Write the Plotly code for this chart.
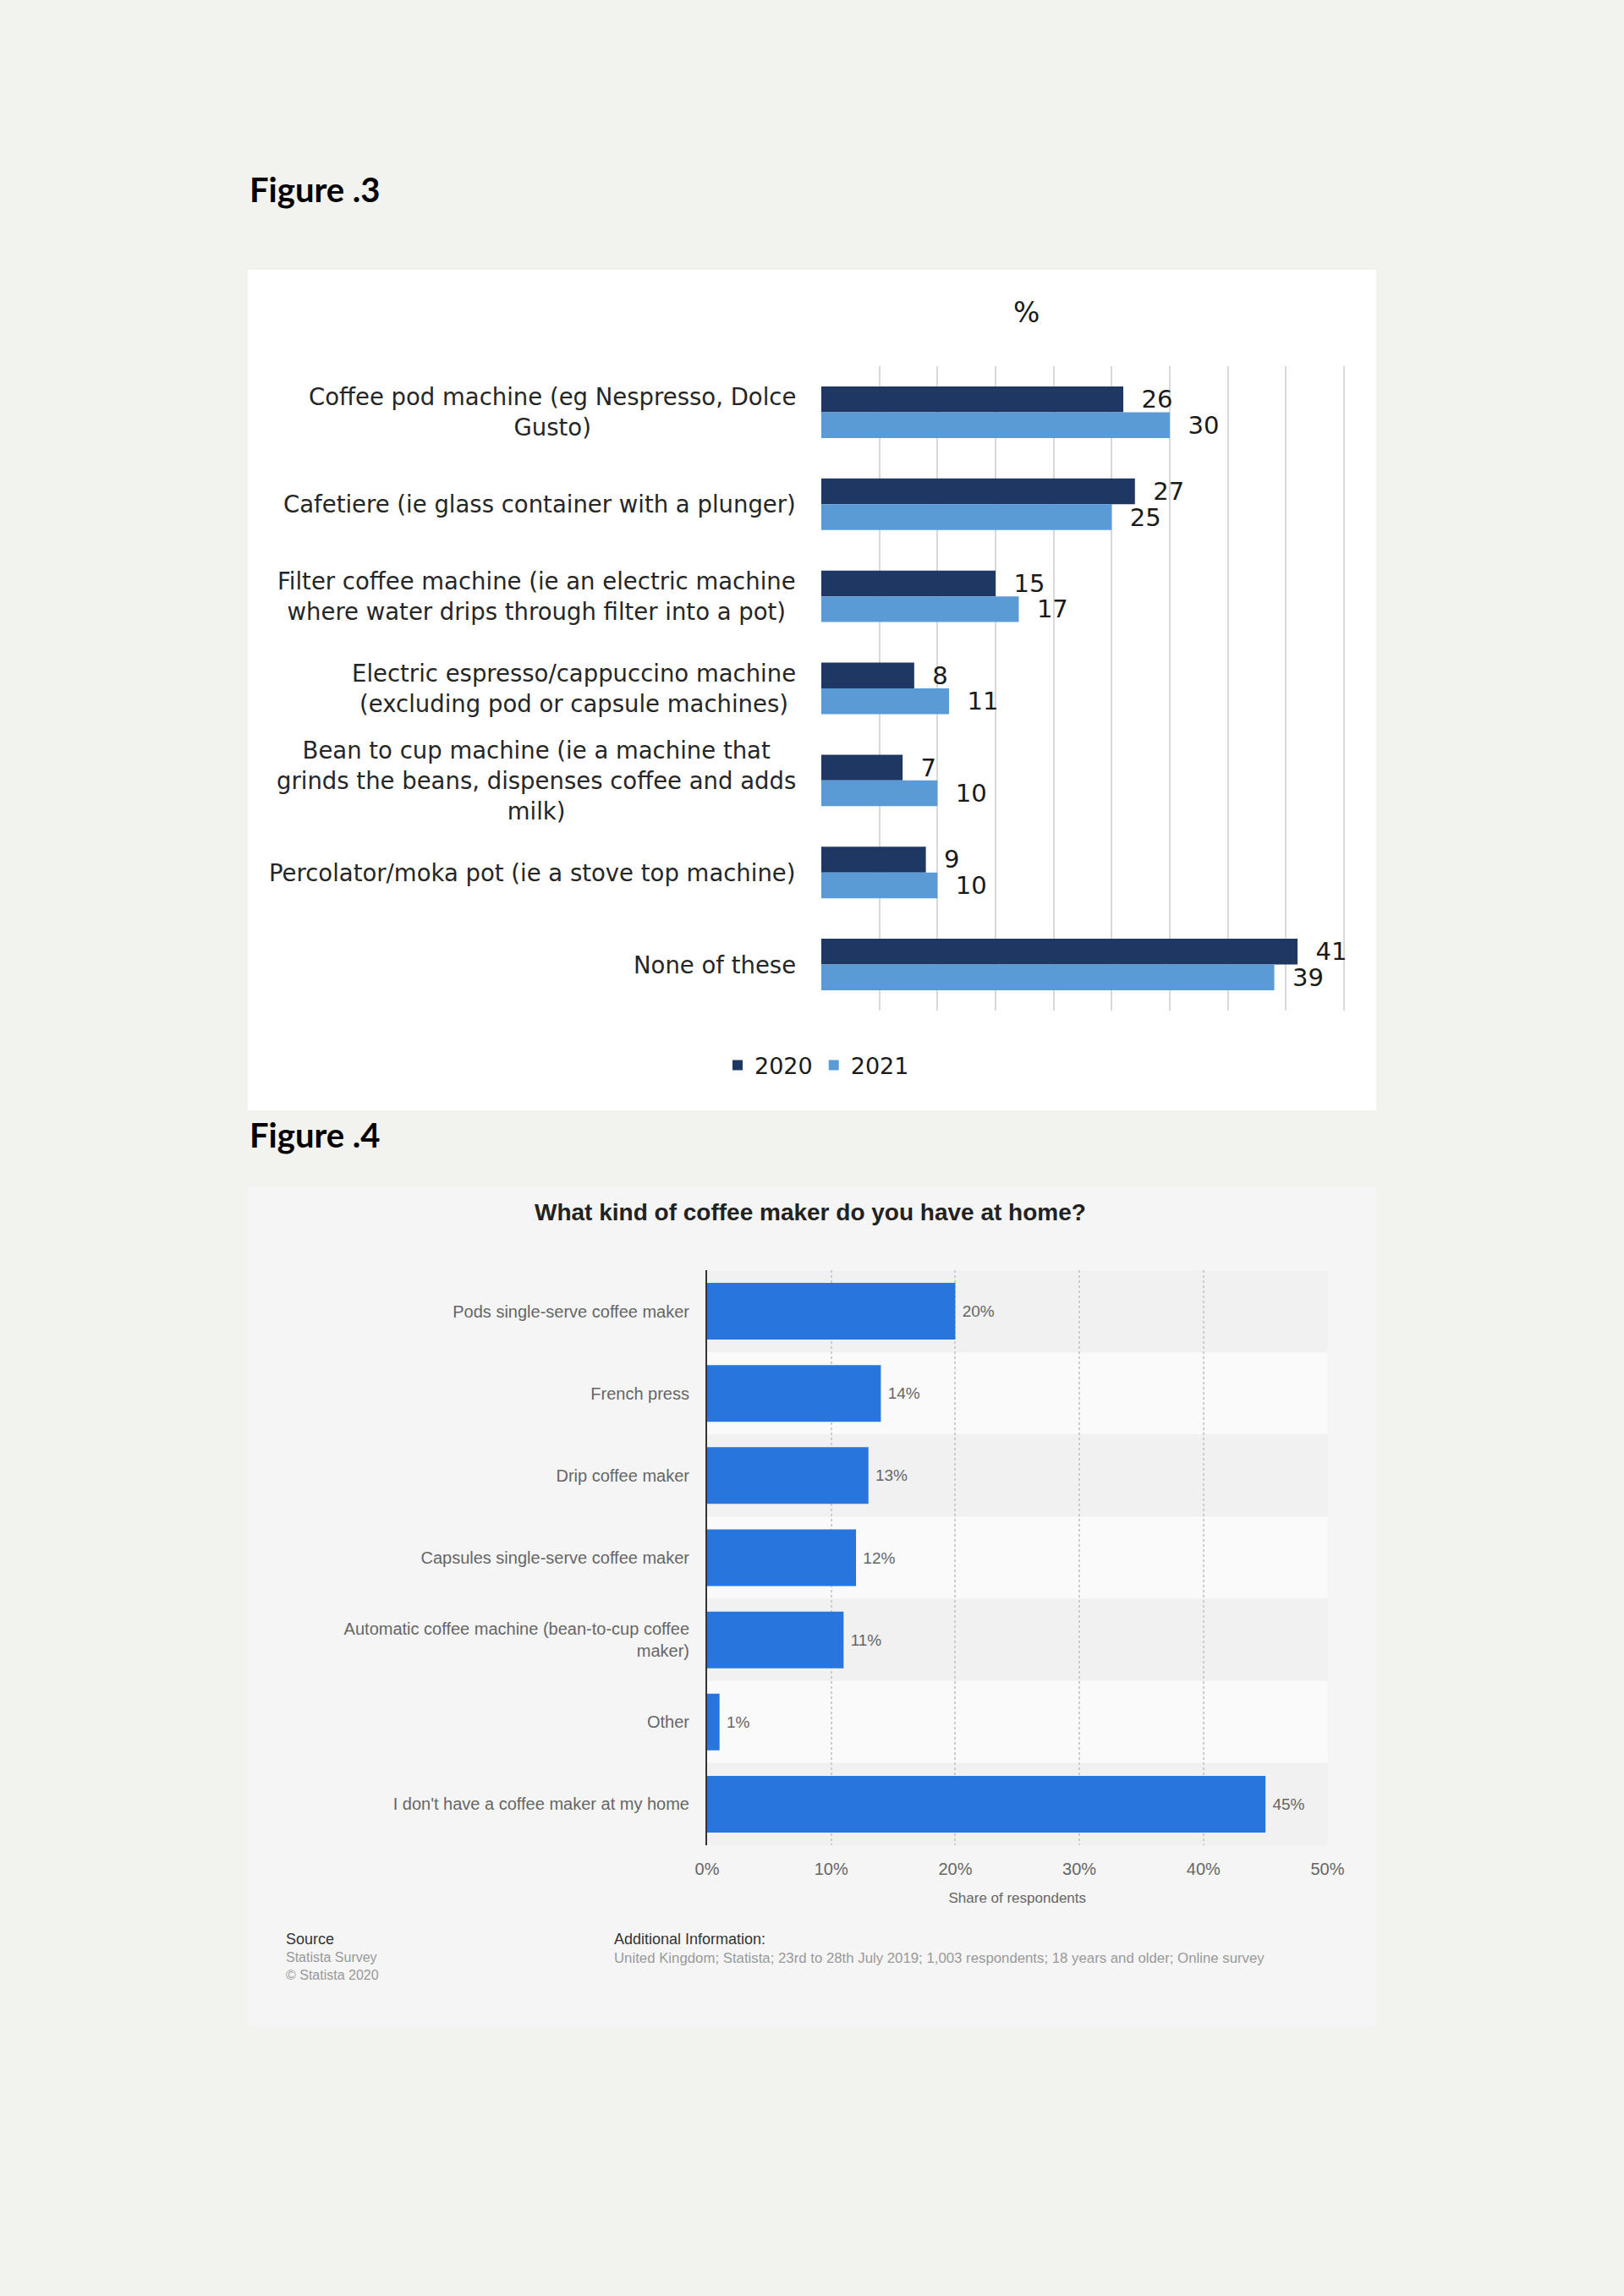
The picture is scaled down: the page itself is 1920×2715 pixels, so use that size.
import plotly.graph_objects as go

W, H = 1920, 2715

# Figure .3 - machines owned, 2020 vs 2021 (%)
machines = [
    "Coffee pod machine (eg Nespresso, Dolce<br>Gusto)",
    "Cafetiere (ie glass container with a plunger)",
    "Filter coffee machine (ie an electric machine<br>where water drips through filter into a pot)",
    "Electric espresso/cappuccino machine<br>(excluding pod or capsule machines)",
    "Bean to cup machine (ie a machine that<br>grinds the beans, dispenses coffee and adds<br>milk)",
    "Percolator/moka pot (ie a stove top machine)",
    "None of these",
]
share_2020 = [26, 27, 15, 8, 7, 9, 41]
share_2021 = [30, 25, 17, 11, 10, 10, 39]

# Figure .4 - statista survey
makers = [
    "Pods single-serve coffee maker",
    "French press",
    "Drip coffee maker",
    "Capsules single-serve coffee maker",
    "Automatic coffee machine (bean-to-cup coffee<br>maker)",
    "Other",
    "I don't have a coffee maker at my home",
]
share_home = [20, 14, 13, 12, 11, 1, 45]
pct_ticks = [0, 10, 20, 30, 40, 50]
pct_labels = ["0%", "10%", "20%", "30%", "40%", "50%"]


def px(x):
    return x / W


def py(y):
    return 1 - y / H


F3 = "DejaVu Sans"
F4 = "Liberation Sans"

fig = go.Figure()

fig.add_trace(go.Bar(
    y=machines, x=share_2020, orientation="h", name="2020",
    marker=dict(color="#1f3763", line=dict(width=0)),
    text=share_2020, texttemplate="\u00a0\u00a0%{text}", textposition="outside",
    constraintext="none", cliponaxis=False,
    textfont=dict(family=F3, size=29, color="#1a1a1a"),
    xaxis="x", yaxis="y",
))
fig.add_trace(go.Bar(
    y=machines, x=share_2021, orientation="h", name="2021",
    marker=dict(color="#5b9bd5", line=dict(width=0)),
    text=share_2021, texttemplate="\u00a0\u00a0%{text}", textposition="outside",
    constraintext="none", cliponaxis=False,
    textfont=dict(family=F3, size=29, color="#1a1a1a"),
    xaxis="x", yaxis="y",
))

fig.add_trace(go.Bar(
    y=makers, x=share_home, orientation="h", showlegend=False,
    marker=dict(color="#2775dd", line=dict(width=0)), width=0.69,
    text=share_home, texttemplate="\u00a0%{text}%", textposition="outside",
    constraintext="none", cliponaxis=False,
    textfont=dict(family=F4, size=19, color="#666666"),
    xaxis="x2", yaxis="y2",
))

shapes = [
    # white panel behind figure 3
    dict(type="rect", xref="paper", yref="paper", layer="below",
         x0=px(293), x1=px(1627), y0=py(1313), y1=py(319),
         fillcolor="#ffffff", line=dict(width=0)),
    # light grey statista panel behind figure 4
    dict(type="rect", xref="paper", yref="paper", layer="below",
         x0=px(293), x1=px(1627), y0=py(2395), y1=py(1403),
         fillcolor="#f5f5f5", line=dict(width=0)),
]
# alternating row bands in figure 4
for i, _ in enumerate(makers):
    shapes.append(dict(
        type="rect", xref="x2 domain", yref="y2", layer="below",
        x0=0, x1=1, y0=i - 0.5, y1=i + 0.5,
        fillcolor="#f1f1f1" if i % 2 == 0 else "#fafafa", line=dict(width=0),
    ))

annotations = [
    dict(text="<b>Figure .3</b>", x=px(293), y=py(224), xref="paper", yref="paper",
         xanchor="left", yanchor="middle", showarrow=False,
         font=dict(family="Lato", size=40, color="#000000")),
    dict(text="%", x=px(1213), y=py(370), xref="paper", yref="paper",
         xanchor="center", yanchor="middle", showarrow=False,
         font=dict(family=F3, size=33, color="#1a1a1a")),
    dict(text="<b>Figure .4</b>", x=px(293), y=py(1342), xref="paper", yref="paper",
         xanchor="left", yanchor="middle", showarrow=False,
         font=dict(family="Lato", size=40, color="#000000")),
    dict(text="<b>What kind of coffee maker do you have at home?</b>", x=px(958), y=py(1433),
         xref="paper", yref="paper", xanchor="center", yanchor="middle", showarrow=False,
         font=dict(family=F4, size=28, color="#222222")),
    dict(text="Source", x=px(336), y=py(2293), xref="paper", yref="paper",
         xanchor="left", yanchor="middle", showarrow=False,
         font=dict(family=F4, size=18, color="#333333")),
    dict(text="Statista Survey<br>© Statista 2020", x=px(336), y=py(2325), xref="paper", yref="paper",
         xanchor="left", yanchor="middle", align="left", showarrow=False,
         font=dict(family=F4, size=16, color="#999999")),
    dict(text="Additional Information:", x=px(724), y=py(2293), xref="paper", yref="paper",
         xanchor="left", yanchor="middle", showarrow=False,
         font=dict(family=F4, size=18, color="#333333")),
    dict(text="United Kingdom; Statista; 23rd to 28th July 2019; 1,003 respondents; "
              "18 years and older; Online survey",
         x=px(724), y=py(2315), xref="paper", yref="paper",
         xanchor="left", yanchor="middle", showarrow=False,
         font=dict(family=F4, size=16.8, color="#999999")),
]
# figure 3 category labels, centre aligned like the original Excel chart
for m in machines:
    annotations.append(dict(
        text=m, x=px(943), y=m, xref="paper", yref="y",
        xanchor="right", yanchor="middle", align="center", showarrow=False,
        font=dict(family=F3, size=27.5, color="#262626"),
    ))

fig.update_layout(
    width=W, height=H,
    margin=dict(l=0, r=0, t=0, b=0, autoexpand=False),
    paper_bgcolor="#f2f2ee",
    plot_bgcolor="rgba(0,0,0,0)",
    barmode="group",
    bargap=0.44,
    bargroupgap=0,
    shapes=shapes,
    annotations=annotations,
    legend=dict(
        orientation="h", x=px(966), xanchor="center", y=py(1260), yanchor="middle",
        font=dict(family=F3, size=27, color="#1a1a1a"), bgcolor="rgba(0,0,0,0)",
    ),
    xaxis=dict(
        domain=[px(971), px(1593.1)], range=[0, 45.3], tickmode="linear", tick0=0, dtick=5,
        showgrid=True, gridcolor="#d9d9d9", gridwidth=2,
        zeroline=False, showline=False, showticklabels=False, ticks="",
        automargin=False, anchor="y",
    ),
    yaxis=dict(
        domain=[py(1195), py(433)], autorange="reversed",
        showgrid=False, zeroline=False, showline=False, showticklabels=False,
        automargin=False, anchor="x",
    ),
    xaxis2=dict(
        domain=[px(836), px(1569.5)], range=[0, 50],
        tickmode="array", tickvals=pct_ticks, ticktext=pct_labels,
        showgrid=True, gridcolor="#cccccc", gridwidth=1.5, griddash="dot",
        zeroline=False, showline=False, ticks="", ticklabelstandoff=14,
        tickfont=dict(family=F4, size=20, color="#666666"),
        title=dict(text="Share of respondents", standoff=18,
                   font=dict(family=F4, size=17, color="#666666")),
        automargin=False, anchor="y2",
    ),
    yaxis2=dict(
        domain=[py(2182), py(1502)], autorange="reversed",
        showgrid=False, zeroline=False, showline=True, linecolor="#333333", linewidth=2,
        ticks="", ticklabelstandoff=15,
        tickfont=dict(family=F4, size=20, color="#666666"),
        automargin=False, anchor="x2",
    ),
)

fig.write_html("out.html", config={"displayModeBar": False},
               post_script="document.body.style.margin = '0';")
